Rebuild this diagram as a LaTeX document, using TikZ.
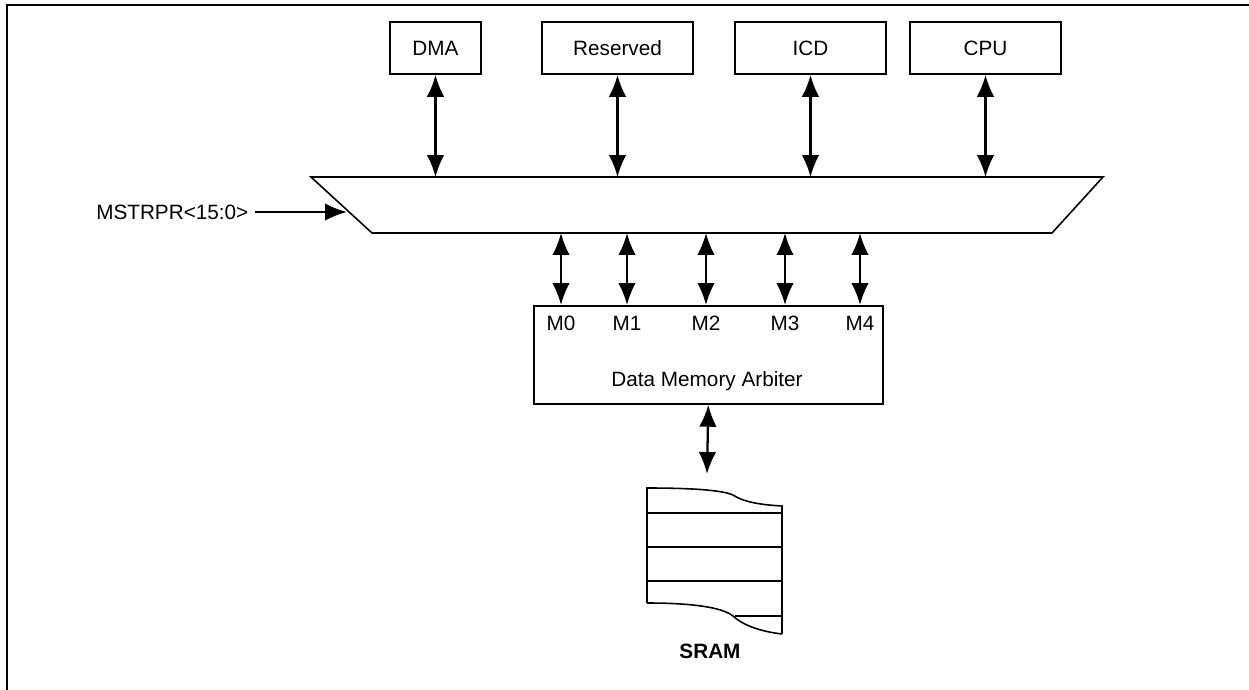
\documentclass[tikz,border=0pt]{standalone}
\usepackage{fontspec}
\setmainfont{Liberation Sans}
\usetikzlibrary{arrows.meta, calc, positioning}

\begin{document}
\begin{tikzpicture}[x=0.02cm, y=-0.02cm, line width=0.9pt,
    >={Latex[length=12.5pt, width=10pt]},
    font=\fontsize{11.8}{14}\selectfont,
    blk/.style={draw, line width=1pt, minimum height=1.04cm, inner sep=0pt},
    link/.style={<->, line width=1.3pt}]
    \useasboundingbox (0,0) rectangle (1249,690);

    % 1. Khung
    \draw[line width=1.2pt] (7,690) -- (7,5) -- (1249,5);

    % 2. Các khối phía trên
    \node[blk, minimum width=1.82cm] (dma) at (435.5,48) {DMA};
    \node[blk, minimum width=3.02cm] (res) at (617.5,48) {Reserved};
    \node[blk, minimum width=3.02cm] (icd) at (810.5,48) {ICD};
    \node[blk, minimum width=3.02cm] (cpu) at (985.5,48) {CPU};

    % 3. Bus (hình thang)
    \coordinate (bustop) at (311,177);
    \coordinate (busbot) at (372,233);
    \draw (bustop) -- (1103,177) -- (1052,233) -- (busbot) -- cycle;
    \foreach \b in {dma,res,icd,cpu}
        \draw[link] (\b.south) -- (\b.south |- bustop);

    % 4. MSTRPR
    \node[anchor=east] (mstr) at (255,212) {MSTRPR<15:0>};
    \coordinate (busin) at (347,212);
    \draw[->, line width=1.3pt] (mstr.east) -- (busin);

    % 5. Bộ phân xử
    \node[blk, anchor=north west, minimum width=6.98cm, minimum height=1.96cm] (arb) at (533,305) {};
    \node (arblbl) at (707,381) {Data Memory Arbiter};
    \foreach \i/\x in {0/561,1/627,2/706,3/785,4/860} {
        \node (m\i) at (\x,323) {M\i};
        \draw[link] (m\i |- busbot) -- (m\i |- arb.north);
    }

    % 6. SRAM
    \coordinate (sramtop) at (707,474);
    \draw[link] (arb.south) -- (sramtop);
    \draw (647,603) -- (647,488)
        .. controls (690,488) and (722,490) .. (733,495)
        .. controls (745,503) and (765,505) .. (782,506) -- (782,634);
    \draw (647,603) .. controls (690,603) and (722,607) .. (733,616)
        .. controls (745,627) and (765,632) .. (782,634);
    \draw (735,616) -- (782,616);
    \foreach \y in {513,547,581}
        \draw (647,\y) -- (782,\y);
    \node[font=\fontsize{11.8}{14}\selectfont\bfseries] (sramlbl) at (710,651) {SRAM};
\end{tikzpicture}
\end{document}
